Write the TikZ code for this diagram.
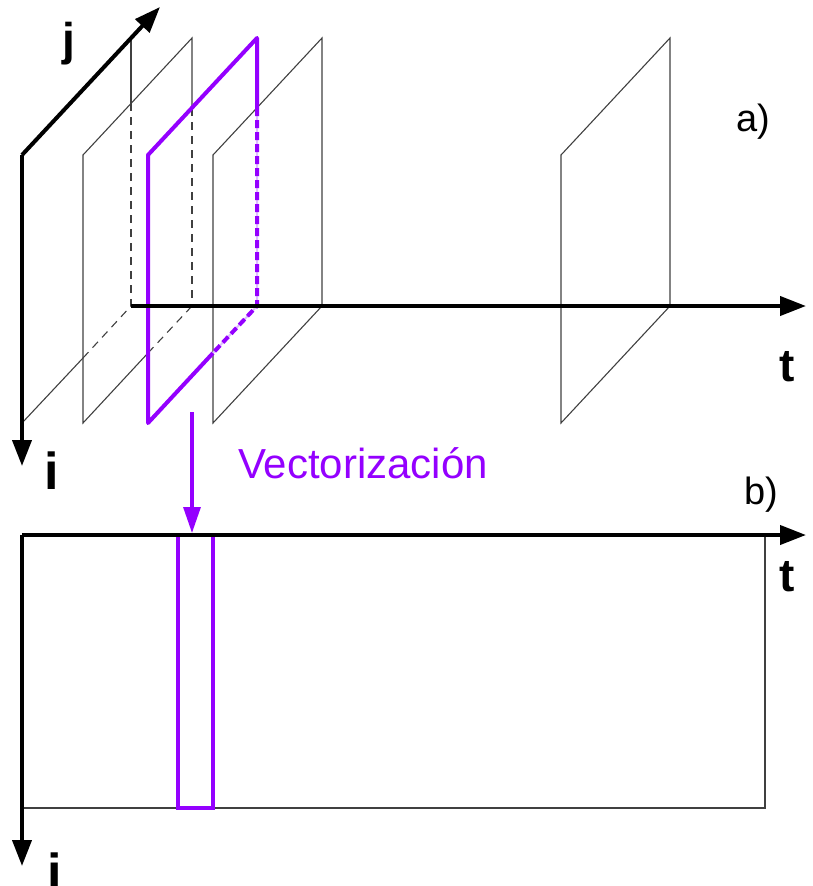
\documentclass[tikz,border=0pt]{standalone}
\usepackage{fontspec}
\setmainfont{Liberation Sans}
\usetikzlibrary{
    arrows.meta
}
\definecolor{vecpurple}{RGB}{148,0,255}
\definecolor{vecpurplelight}{RGB}{222,190,255}

\begin{document}
\begin{tikzpicture}[
    x=1pt,
    y=-1pt,
    axis/.style={
        line width=4pt,
        -{Triangle[length=26pt,width=19pt]}
    },
    plane/.style={
        line width=1.1pt,
        draw=black!75
    },
    hidden/.style={
        plane,
        dash pattern=on 8pt off 6pt
    },
    vector/.style={
        line width=4pt,
        draw=vecpurple
    },
    vectorhidden/.style={
        vector,
        dash pattern=on 8pt off 4pt
    },
    axislabel/.style={
        font=\fontsize{46}{52}\selectfont\bfseries,
        inner sep=0pt
    },
    partlabel/.style={
        font=\fontsize{38}{44}\selectfont,
        inner sep=0pt
    }
]

\useasboundingbox (0,0) rectangle (813,886);

% a) frames

\foreach \fx in {213,561} {
    \draw[plane]
        (\fx,155) -- (\fx,423) -- (\fx+109,306) -- (\fx+109,38) -- cycle;
}

\draw[plane] (131,38) -- (131,103);
\draw[hidden] (131,103) -- (131,306);
\draw[plane] (22,423) -- (83,358);
\draw[hidden] (83,358) -- (131,306);

\draw[plane] (192,108) -- (192,38) -- (83,155) -- (83,423) -- (148,353);
\draw[hidden] (192,108) -- (192,306);
\draw[hidden] (148,353) -- (192,306);

% selected frame

\draw[vector, line join=round]
    (257,108) -- (257,38) -- (148,155) -- (148,423) -- (213,353);
\draw[line width=2pt, vecpurplelight]
    (257,108) -- (257,306) -- (213,353);
\draw[vectorhidden] (257,108) -- (257,306) -- (213,353);

% a) axes

\coordinate (origin) at (22,155);
\coordinate (torigin) at (131,306);

\draw[axis] (origin) -- (160,7);
\draw[axis] (origin) -- (22,466);
\draw[axis] (torigin) -- (806,306);

\node[axislabel] (jlabel) at (69,44) {j};
\node[axislabel, font=\fontsize{52}{58}\selectfont\bfseries] (ilabel) at (52,471) {i};
\node[axislabel] (tlabel) at (787,367) {t};
\node[partlabel] (alabel) at (753,122) {a)};

% vectorization

\coordinate (vecstart) at (192,412);
\coordinate (vecend) at (192,533);

\draw[
    line width=3.2pt,
    vecpurple,
    -{Triangle[length=26pt,width=17pt]}
] (vecstart) -- (vecend);

\node[
    font=\fontsize{42}{48}\selectfont,
    text=vecpurple,
    inner sep=0pt
] (veclabel) at (363,463) {Vectorización};

% b) matrix

\coordinate (borigin) at (22,535);

\draw[plane] (22,808) -- (765,808) -- (765,535);
\draw[vector, line width=3.2pt] (178,535) rectangle (213,808);

\draw[axis] (borigin) -- (806,535);
\draw[axis] (borigin) -- (22,866);

\node[axislabel] (tblabel) at (787,577) {t};
\node[axislabel, font=\fontsize{52}{58}\selectfont\bfseries] (iblabel) at (55,872) {i};
\node[partlabel] (blabel) at (761,495) {b)};

\end{tikzpicture}
\end{document}
